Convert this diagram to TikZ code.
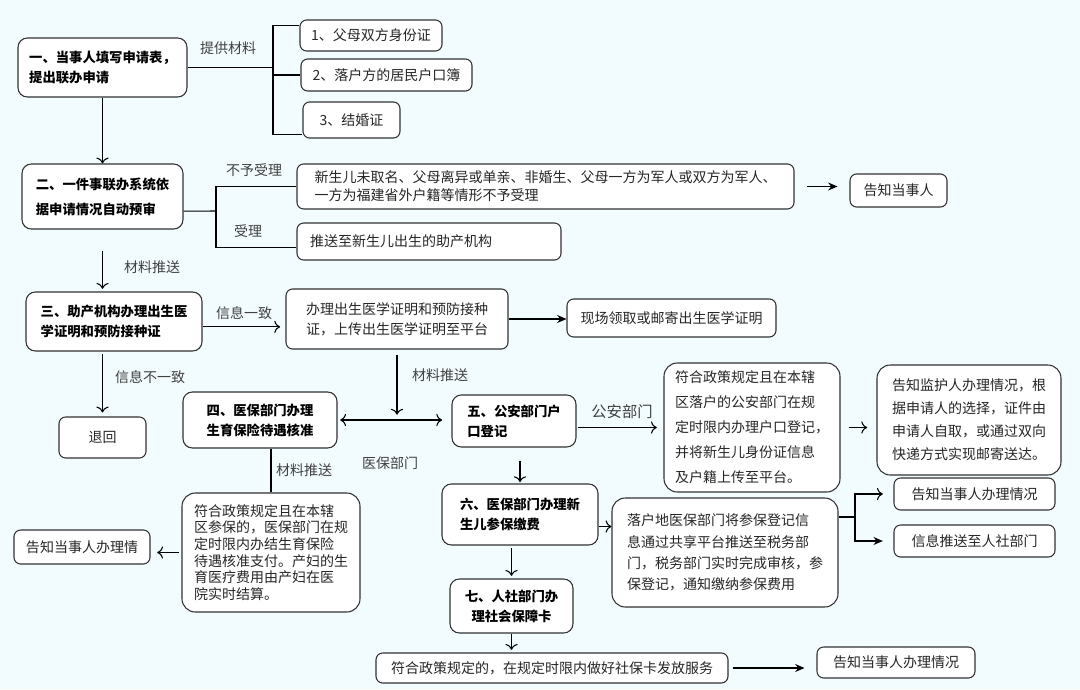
\documentclass[tikz,border=0pt]{standalone}
\usepackage{fontspec}
\setmainfont{Noto Sans CJK SC}
\usetikzlibrary{arrows.meta}
\definecolor{bgcol}{RGB}{242,251,253}
\definecolor{linecol}{RGB}{50,50,50}

\begin{document}
\begin{tikzpicture}[x=0.75pt, y=-0.75pt, >={To[scale=1.3]}, line width=0.8pt,
  box/.style={draw=linecol, fill=white, rounded corners=5pt, inner xsep=4pt, inner ysep=2pt,
    align=left, text=black!85, font=\fontsize{10.5pt}{15pt}\selectfont},
  stepbox/.style={box, rounded corners=7pt, text=black, font=\bfseries\fontsize{10pt}{15pt}\selectfont},
  bigbox/.style={box, rounded corners=10pt},
  tag/.style={text=black!75, font=\fontsize{10.5pt}{13pt}\selectfont},
  filled/.style={-{Stealth[length=7pt,width=6pt]}}]
% Vẽ nền
\useasboundingbox (0,0) rectangle (1080,689);
\fill[bgcol] (0,0) rectangle (1080,689);

% Vẽ các bước chính
\node[stepbox, minimum width=126.75pt, minimum height=44.25pt] (s1) at (102.5,67.5) {一、当事人填写申请表，\\提出联办申请};
\node[stepbox, minimum width=120.75pt, minimum height=48.75pt, font=\bfseries\fontsize{10pt}{18.75pt}\selectfont] (s2) at (102.5,196.5) {二、一件事联办系统依\\据申请情况自动预审};
\node[stepbox, minimum width=132pt, minimum height=44.25pt] (s3) at (114,321.5) {三、助产机构办理出生医\\学证明和预防接种证};
\node[stepbox, minimum width=115.5pt, minimum height=42pt] (s4) at (260,420) {四、医保部门办理\\生育保险待遇核准};
\node[stepbox, minimum width=93pt, minimum height=39pt] (s5) at (514,421) {五、公安部门户\\口登记};
\node[stepbox, minimum width=117pt, minimum height=45.75pt] (s6) at (520,514.5) {六、医保部门办理新\\生儿参保缴费};
\node[stepbox, minimum width=92.25pt, minimum height=40.5pt, align=center] (s7) at (511.5,606) {七、人社部门办\\理社会保障卡};

% Vẽ các hộp giải thích
\node[box, minimum width=106.5pt, minimum height=23.25pt] (m1) at (371,35.5) {1、父母双方身份证};
\node[box, minimum width=128.25pt, minimum height=24pt] (m2) at (386.5,75) {2、落户方的居民户口簿};
\node[box, minimum width=72.75pt, minimum height=27pt] (m3) at (351.5,120) {3、结婚证};
\node[box, minimum width=372.75pt, minimum height=33.75pt, font=\fontsize{10.5pt}{13.5pt}\selectfont] (r1) at (545.5,186.5) {新生儿未取名、父母离异或单亲、非婚生、父母一方为军人或双方为军人、\\一方为福建省外户籍等情形不予受理};
\node[box, text width=178.5pt, inner xsep=9.75pt, minimum height=27.75pt] (r2) at (429,241.5) {推送至新生儿出生的助产机构};
\node[box, minimum width=72.75pt, minimum height=24.75pt] (t1) at (898.5,190.5) {告知当事人};
\node[box, minimum width=166.5pt, minimum height=45pt] (p1) at (397,319) {办理出生医学证明和预防接种\\证，上传出生医学证明至平台};
\node[box, minimum width=156.75pt, minimum height=28.5pt] (v1) at (671.5,318) {现场领取或邮寄出生医学证明};
\node[box, minimum width=65.25pt, minimum height=30.75pt] (back) at (102.5,437.5) {退回};
\node[bigbox, minimum width=132pt, minimum height=96.75pt, font=\fontsize{10.5pt}{18.75pt}\selectfont] (g1) at (752,427.5) {符合政策规定且在本辖\\区落户的公安部门在规\\定时限内办理户口登记，\\并将新生儿身份证信息\\及户籍上传至平台。};
\node[bigbox, minimum width=138pt, minimum height=82.5pt, font=\fontsize{10.5pt}{17.25pt}\selectfont] (g2) at (969,420) {告知监护人办理情况，根\\据申请人的选择，证件由\\申请人自取，或通过双向\\快递方式实现邮寄送达。};
\node[bigbox, minimum width=169.5pt, minimum height=81.75pt, font=\fontsize{10.5pt}{16pt}\selectfont] (ins) at (725,552.5) {落户地医保部门将参保登记信\\息通过共享平台推送至税务部\\门，税务部门实时完成审核，参\\保登记，通知缴纳参保费用};
\node[box, minimum width=120.75pt, minimum height=24pt] (ra) at (974.5,494) {告知当事人办理情况};
\node[box, minimum width=120.75pt, minimum height=24pt] (rb) at (974.5,541) {信息推送至人社部门};
\node[bigbox, minimum width=133.5pt, minimum height=89.25pt, font=\fontsize{10.5pt}{12.5pt}\selectfont] (p4) at (271,552.5) {符合政策规定且在本辖\\区参保的，医保部门在规\\定时限内办结生育保险\\待遇核准支付。产妇的生\\育医疗费用由产妇在医\\院实时结算。};
\node[box, minimum width=102pt, minimum height=25.5pt] (n4) at (82,547) {告知当事人办理情};
\node[box, minimum width=264pt, minimum height=22.5pt] (fin) at (552,668) {符合政策规定的，在规定时限内做好社保卡发放服务};
\node[box, minimum width=118.5pt, minimum height=23.25pt] (t7) at (896,662.5) {告知当事人办理情况};

% Gắn nhãn trên các mũi tên
\node[tag] (lb1) at (228,48) {提供材料};
\node[tag] (lb2) at (254,170) {不予受理};
\node[tag] (lb3) at (248,231) {受理};
\node[tag] (lb4) at (152,267) {材料推送};
\node[tag] (lb5) at (244,313) {信息一致};
\node[tag] (lb6) at (150,377) {信息不一致};
\node[tag] (lb7) at (440,375) {材料推送};
\node[tag] (lb8) at (390,463) {医保部门};
\node[tag, font=\fontsize{11.5pt}{13pt}\selectfont] (lb9) at (622,412) {公安部门};
\node[tag] (lb10) at (304,470) {材料推送};

% Vẽ ngoặc nhánh
\coordinate (mat) at (273,67.5);
\coordinate (chk) at (216,211);
\coordinate (fork) at (855,517);
\draw (s1.east) -- (mat);
\draw ([yshift=-4.5pt]m1.north west) -| (mat) |- ([yshift=3pt]m3.south west);
\draw (mat |- m2.west) -- (m2.west);
\draw ([yshift=-11pt]s2.east) -- (chk);
\draw (r1.west) -| (chk) |- ([yshift=-4.5pt]r2.west);
\draw (ins.east |- fork) -- (fork);
\draw[->, shorten >=8pt] (fork) |- (ra.west);
\draw[filled, shorten >=8pt] (fork) |- (rb.west);

% Vẽ các mũi tên
\draw[->] (s1.south) -- (s2.north);
\draw[filled, shorten <=9pt, shorten >=9pt] (r1.east) -- (r1.east -| t1.west);
\draw[->, shorten <=16pt, shorten >=2pt] (s2.south) -- (s2.south |- s3.north);
\draw[->, shorten >=4pt] ([yshift=-4pt]s3.east) -- ([yshift=-4pt]s3.east -| p1.west);
\draw[filled] (p1.east) -- (p1.east -| v1.west);
\draw[->, shorten <=2pt, shorten >=3pt] (back.north |- s3.south) -- (back.north);
\draw[->, shorten <=4pt, shorten >=4pt] (p1.south) -- (p1.south |- s4.east);
\draw[<->, shorten <=2pt, shorten >=7pt] (s4.east) -- (s4.east -| s5.west);
\draw (p4.north) -- (p4.north |- s4.south);
\draw[->, shorten <=2pt, shorten >=5pt] (p4.west) -- (p4.west -| n4.east);
\draw[->, shorten <=1pt, shorten >=5pt] (s5.east |- g1.west) -- (g1.west);
\draw[->, shorten <=6pt, shorten >=7pt] (g1.east) -- (g1.east -| g2.west);
\draw[->, shorten <=10pt, shorten >=1pt] (s6.north |- s5.south) -- (s6.north);
\draw[->] ([yshift=-9pt]s6.east) -- ([yshift=-9pt]s6.east -| ins.west);
\draw[->, shorten <=2pt, shorten >=2pt] (s7.north |- s6.south) -- (s7.north);
\draw[->, shorten >=2pt] (s7.south) -- (s7.south |- fin.north);
\draw[filled, shorten <=3pt, shorten >=9pt] (fin.east) -- (fin.east -| t7.west);
\end{tikzpicture}
\end{document}
